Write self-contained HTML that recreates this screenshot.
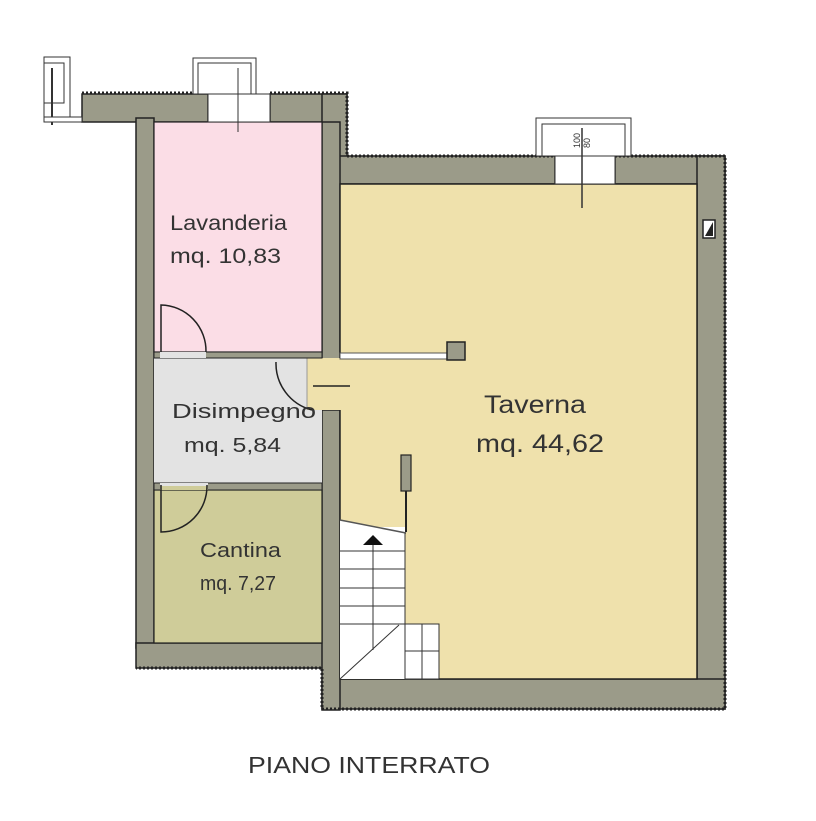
<!DOCTYPE html>
<html><head><meta charset="utf-8"><style>
html,body{margin:0;padding:0;background:#fff;}
svg{display:block}
text{font-family:"Liberation Sans",sans-serif;fill:#333;}
</style></head><body>
<svg width="816" height="821" viewBox="0 0 816 821" xmlns="http://www.w3.org/2000/svg">
<g fill="#9b9b89" stroke="#222" stroke-width="1.5">
<rect x="82" y="94" width="126" height="28"/>
<rect x="270" y="94" width="77" height="28"/>
<rect x="322" y="94" width="25" height="90"/>
<rect x="322" y="156" width="233" height="28"/>
<rect x="615" y="156" width="110" height="28"/>
<rect x="697" y="156" width="28" height="553"/>
<rect x="322" y="679" width="403" height="30"/>
<rect x="136" y="118" width="18" height="530"/>
<rect x="136" y="643" width="204" height="25"/>
<rect x="322" y="122" width="18" height="238"/>
<rect x="322" y="410" width="18" height="300"/>
</g>
<rect x="340" y="184" width="357" height="495" fill="#efe1ac" stroke="#222" stroke-width="1.5"/>
<rect x="154" y="122" width="168" height="230" fill="#fbdde6" stroke="#222" stroke-width="1.2"/>
<rect x="154" y="358" width="168" height="125" fill="#e3e3e3"/>
<rect x="307" y="358" width="35" height="52" fill="#efe1ac"/>
<line x1="307" y1="358" x2="307" y2="410" stroke="#999" stroke-width="1"/>
<rect x="154" y="490" width="168" height="153" fill="#cfcc99" stroke="#222" stroke-width="1.2"/>
<rect x="154" y="352" width="168" height="6" fill="#9b9b89" stroke="#222" stroke-width="1"/>
<rect x="160" y="352" width="46" height="6" fill="#e3e3e3"/>
<rect x="154" y="483" width="168" height="7" fill="#9b9b89" stroke="#222" stroke-width="1"/>
<rect x="160" y="483" width="48" height="7" fill="#e3e3e3"/>
<rect x="160" y="486" width="48" height="4" fill="#cfcc99"/>
<g stroke="#222" stroke-width="3" fill="none" stroke-dasharray="2 2">
<polyline points="82,93 208,93"/><polyline points="270,93 347,93 347,156 555,156"/>
<polyline points="615,156 725,156 725,709 322,709 322,668 136,668"/>
</g>
<g stroke="#333" stroke-width="1" fill="#fff">
<rect x="193" y="58" width="63" height="36"/>
<rect x="198" y="63" width="53" height="31"/>
<rect x="208" y="94" width="62" height="28"/>
<line x1="238" y1="68" x2="238" y2="132"/>
<rect x="44" y="57" width="26" height="62"/>
<rect x="44" y="63" width="20" height="40"/>
<line x1="52" y1="68" x2="52" y2="125" stroke-width="2"/>
<rect x="44" y="117" width="38" height="5"/>
<rect x="536" y="118" width="95" height="38"/>
<rect x="542" y="124" width="83" height="32"/>
<rect x="555" y="156" width="60" height="28"/>
<line x1="582" y1="128" x2="582" y2="208" stroke-width="1.5"/>
</g>
<text font-size="9" transform="translate(580,148) rotate(-90)">100</text>
<text font-size="9" transform="translate(590,148) rotate(-90)">80</text>
<rect x="703" y="220" width="12" height="18" fill="#fff" stroke="#222" stroke-width="1.5"/>
<polygon points="705,236 713,222 713,236" fill="#222"/>
<g fill="none" stroke="#222" stroke-width="1.5">
<path d="M161,352 L161,305 A46,46 0 0 1 206,352"/>
<path d="M161,485 L161,532 A46,46 0 0 0 207,485"/>
<path d="M276,362 A48,48 0 0 0 312,410"/>
<line x1="313" y1="386" x2="350" y2="386"/>
</g>
<rect x="340" y="353" width="107" height="6" fill="#fff" stroke="#555" stroke-width="1"/>
<rect x="447" y="342" width="18" height="18" fill="#9b9b89" stroke="#222" stroke-width="1.5"/>
<rect x="401" y="455" width="10" height="36" fill="#9b9b89" stroke="#222" stroke-width="1.2"/>
<line x1="406" y1="491" x2="406" y2="532" stroke="#222" stroke-width="2"/>
<rect x="340" y="527" width="65" height="152" fill="#fff"/>
<rect x="405" y="624" width="34" height="55" fill="#fff" stroke="#333" stroke-width="1"/>
<polygon points="340,520 406,533 340,533" fill="#fff"/>
<line x1="340" y1="520" x2="406" y2="533" stroke="#555" stroke-width="1.5"/>
<g stroke="#333" stroke-width="1">
<line x1="340" y1="551" x2="405" y2="551"/><line x1="340" y1="569" x2="405" y2="569"/>
<line x1="340" y1="588" x2="405" y2="588"/><line x1="340" y1="606" x2="405" y2="606"/>
<line x1="340" y1="624" x2="405" y2="624"/><line x1="405" y1="533" x2="405" y2="679"/>
<line x1="405" y1="651" x2="439" y2="651"/><line x1="422" y1="624" x2="422" y2="679"/>
<line x1="373" y1="545" x2="373" y2="650"/><line x1="340" y1="679" x2="399" y2="625"/>
</g>
<polygon points="373,535 363,545 383,545" fill="#111"/>
<text x="170" y="230" font-size="21" textLength="117" lengthAdjust="spacingAndGlyphs">Lavanderia</text>
<text x="170" y="263" font-size="21" textLength="111" lengthAdjust="spacingAndGlyphs">mq. 10,83</text>
<text x="172" y="418" font-size="20" textLength="144" lengthAdjust="spacingAndGlyphs">Disimpegno</text>
<text x="184" y="452" font-size="20" textLength="97" lengthAdjust="spacingAndGlyphs">mq. 5,84</text>
<text x="200" y="557" font-size="20" textLength="81" lengthAdjust="spacingAndGlyphs">Cantina</text>
<text x="200" y="590" font-size="20" textLength="76" lengthAdjust="spacingAndGlyphs">mq. 7,27</text>
<text x="484" y="413" font-size="25" textLength="102" lengthAdjust="spacingAndGlyphs">Taverna</text>
<text x="476" y="452" font-size="25" textLength="128" lengthAdjust="spacingAndGlyphs">mq. 44,62</text>
<text x="248" y="773" font-size="23" textLength="242" lengthAdjust="spacingAndGlyphs">PIANO INTERRATO</text>
</svg>
</body></html>
